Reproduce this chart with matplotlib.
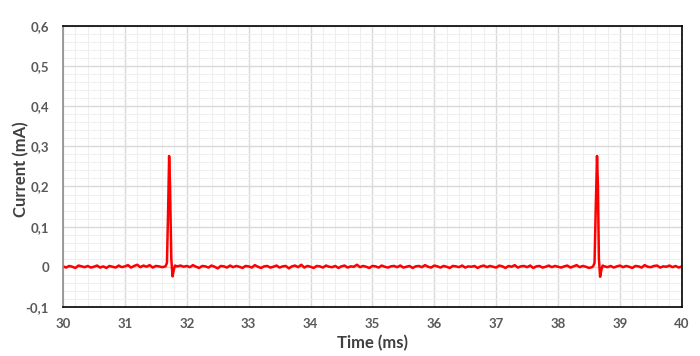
import numpy as np
import matplotlib.pyplot as plt
from matplotlib.ticker import MultipleLocator, FuncFormatter

plt.rcParams['font.family'] = ['Lato', 'DejaVu Sans']

t_start = 30.0
t_step = 0.05
baseline = [
    0.001, -0.002, 0.002, 0.000, -0.003, 0.003, 0.001, -0.001, 0.002, -0.002,
    0.000, 0.003, -0.002, 0.001, -0.003, 0.002, 0.000, -0.002, 0.003, -0.001,
    0.001, 0.004, -0.002, 0.002, 0.005, -0.001, 0.003, 0.000, 0.004, -0.002,
    0.002, 0.001, -0.001, 0.003, 0.000, 0.002, -0.002, 0.001, 0.003, 0.000,
    0.002, -0.001, 0.004, 0.000, -0.003, 0.002, 0.001, -0.002, 0.003, 0.000,
    -0.004, 0.002, 0.001, -0.002, 0.003, -0.001, 0.002, 0.000, -0.003, 0.002,
    0.001, -0.002, 0.004, 0.000, -0.003, 0.001, 0.002, -0.002, 0.000, 0.003,
    -0.002, 0.001, 0.002, -0.004, 0.001, 0.003, -0.001, 0.005, -0.002, 0.002,
    0.000, -0.003, 0.002, 0.001, -0.002, 0.003, 0.000, -0.001, 0.002, -0.003,
    0.001, 0.003, -0.002, 0.001, 0.000, 0.005, -0.001, 0.002, 0.000, -0.003,
    0.002, 0.001, -0.002, 0.003, 0.000, -0.002, 0.001, 0.002, -0.001, 0.003,
    -0.002, 0.000, 0.002, -0.003, 0.001, 0.002, -0.001, 0.004, 0.000, -0.002,
    0.003, 0.001, -0.002, 0.002, 0.000, -0.003, 0.002, 0.001, -0.001, 0.003,
    -0.002, 0.001, 0.000, 0.002, -0.003, 0.001, 0.003, -0.001, 0.002, 0.000,
    -0.002, 0.003, 0.001, -0.003, 0.002, 0.000, 0.004, -0.002, 0.001, 0.002,
    -0.001, 0.003, -0.003, 0.001, 0.002, -0.002, 0.000, 0.003, -0.001, 0.002,
    0.000, -0.002, 0.001, 0.003, -0.002, 0.001, 0.004, -0.001, 0.002, 0.000,
    -0.003, 0.002, 0.001, -0.002, 0.003, 0.000, -0.001, 0.002, -0.002, 0.001,
    0.003, -0.001, 0.002, 0.000, -0.003, 0.002, 0.001, -0.002, 0.004, 0.000,
    -0.001, 0.002, 0.003, -0.002, 0.001, 0.000, 0.003, -0.001, 0.002, -0.002,
    0.001,
]

# Two current spikes (time ms, current mA)
spike1_t = [31.64, 31.66, 31.68, 31.70, 31.715, 31.73, 31.75, 31.77, 31.79, 31.81, 31.84]
spike1_i = [0.000, 0.002, 0.010, 0.150, 0.276, 0.200, 0.020, -0.024, -0.008, 0.003, 0.001]
spike2_t = [38.55, 38.57, 38.59, 38.61, 38.63, 38.645, 38.66, 38.68, 38.70, 38.72, 38.75]
spike2_i = [-0.001, 0.002, 0.010, 0.150, 0.276, 0.200, 0.020, -0.025, -0.008, 0.003, 0.001]

t_base = t_start + t_step * np.arange(len(baseline))
i_base = np.array(baseline)

# merge baseline with spike segments
t_all = list(t_base)
i_all = list(i_base)
for st, si in [(spike1_t, spike1_i), (spike2_t, spike2_i)]:
    keep = [(t, v) for t, v in zip(t_all, i_all) if not (st[0] <= t <= st[-1])]
    keep += list(zip(st, si))
    keep.sort()
    t_all = [k[0] for k in keep]
    i_all = [k[1] for k in keep]

fig = plt.figure(figsize=(7, 3.56), dpi=100)
ax = fig.add_axes([0.09, 0.138, 0.884, 0.789])

ax.plot(t_all, i_all, color="#ff0000", lw=1.8)

ax.set_xlim(30, 40)
ax.set_ylim(-0.1, 0.6)
ax.xaxis.set_major_locator(MultipleLocator(1))
ax.xaxis.set_minor_locator(MultipleLocator(0.2))
ax.yaxis.set_major_locator(MultipleLocator(0.1))
ax.yaxis.set_minor_locator(MultipleLocator(0.02))
ax.grid(which="major", color="#d9d9d9", lw=1.0)
ax.grid(which="minor", color="#efefef", lw=0.8)
ax.set_axisbelow(True)

def comma(v, pos):
    s = f"{v:.1f}".rstrip("0").rstrip(".")
    if s in ("-0", ""):
        s = "0"
    return s.replace(".", ",")

ax.yaxis.set_major_formatter(FuncFormatter(comma))
ax.xaxis.set_major_formatter(FuncFormatter(lambda v, p: f"{v:.0f}"))
ax.tick_params(which="both", length=0, labelsize=9.5, labelcolor="#595959")
ax.tick_params(axis="y", pad=10)
ax.tick_params(axis="x", pad=8)
for lab in ax.get_xticklabels() + ax.get_yticklabels():
    lab.set_fontweight("bold")

for side in ["top", "right", "bottom"]:
    ax.spines[side].set_color("#000000")
    ax.spines[side].set_linewidth(1.2)
ax.spines["left"].set_color("#8c8c8c")
ax.spines["left"].set_linewidth(1.2)

ax.set_xlabel("Time (ms)", fontsize=12, fontweight="bold", color="#404040")
ax.set_ylabel("Current (mA)", fontsize=12, fontweight="bold", color="#404040")
ax.xaxis.set_label_coords(0.5, -0.1)
ax.yaxis.set_label_coords(-0.055, 0.49)

fig.savefig("out.png", dpi=100, facecolor="white")
